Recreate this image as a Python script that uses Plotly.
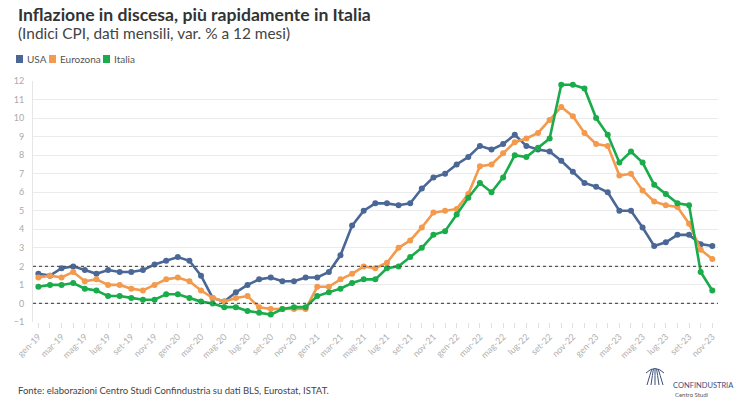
import plotly.graph_objects as go

W, H = 745, 402
ML, MR, MT, MB = 33, 27, 81, 80

mesi = ["gen", "feb", "mar", "apr", "mag", "giu", "lug", "ago", "set", "ott", "nov", "dic"]
categorie = [f"{m}-{a}" for a in ["19", "20", "21", "22", "23"] for m in mesi][:59]

usa = [1.6, 1.5, 1.9, 2.0, 1.8, 1.6, 1.8, 1.7, 1.7, 1.8, 2.1, 2.3,
       2.5, 2.3, 1.5, 0.3, 0.1, 0.6, 1.0, 1.3, 1.4, 1.2, 1.2, 1.4,
       1.4, 1.7, 2.6, 4.2, 5.0, 5.4, 5.4, 5.3, 5.4, 6.2, 6.8, 7.0,
       7.5, 7.9, 8.5, 8.3, 8.6, 9.1, 8.5, 8.3, 8.2, 7.7, 7.1, 6.5,
       6.3, 6.0, 5.0, 5.0, 4.1, 3.1, 3.3, 3.7, 3.7, 3.2, 3.1]
eurozona = [1.4, 1.5, 1.4, 1.7, 1.2, 1.3, 1.0, 1.0, 0.8, 0.7, 1.0, 1.3,
            1.4, 1.2, 0.7, 0.3, 0.1, 0.3, 0.4, -0.2, -0.3, -0.3, -0.3, -0.3,
            0.9, 0.9, 1.3, 1.6, 2.0, 1.9, 2.2, 3.0, 3.4, 4.1, 4.9, 5.0,
            5.1, 5.9, 7.4, 7.5, 8.1, 8.7, 8.9, 9.2, 9.9, 10.6, 10.1, 9.2,
            8.6, 8.5, 6.9, 7.0, 6.1, 5.5, 5.3, 5.2, 4.3, 2.9, 2.4]
italia = [0.9, 1.0, 1.0, 1.1, 0.8, 0.7, 0.4, 0.4, 0.3, 0.2, 0.2, 0.5,
          0.5, 0.3, 0.1, 0.0, -0.2, -0.2, -0.4, -0.5, -0.6, -0.3, -0.2, -0.2,
          0.4, 0.6, 0.8, 1.1, 1.3, 1.3, 1.9, 2.0, 2.5, 3.0, 3.7, 3.9,
          4.8, 5.7, 6.5, 6.0, 6.8, 8.0, 7.9, 8.4, 8.9, 11.8, 11.8, 11.6,
          10.0, 9.1, 7.6, 8.2, 7.6, 6.4, 5.9, 5.4, 5.3, 1.7, 0.7]

serie = [("USA", usa, "#4a6796"), ("Eurozona", eurozona, "#f39a4c"), ("Italia", italia, "#1aab4a")]
linee_rif = [0, 2]
y_ticks = list(range(-1, 13))

FONT = "Lato"
PW, PH = W - ML - MR, H - MT - MB

def px(x):
    return (x - ML) / PW

def py(y):
    return (H - MB - y) / PH

fig = go.Figure()
for nome, valori, colore in serie:
    fig.add_trace(go.Scatter(
        x=categorie, y=valori, name=nome, mode="lines+markers",
        line=dict(color=colore, width=2.6),
        marker=dict(color=colore, size=6),
        showlegend=False,
    ))

shapes = []
for v in linee_rif:
    shapes.append(dict(type="line", xref="paper", yref="y", x0=0, x1=1, y0=v, y1=v,
                       line=dict(color="#555555", width=1.2, dash="dot"), layer="above"))

annotations = [
    dict(text="<b>Inflazione in discesa, più rapidamente in Italia</b>", x=px(16), y=py(14),
         xref="paper", yref="paper", xanchor="left", yanchor="middle", showarrow=False,
         font=dict(family=FONT, size=17.6, color="#333333")),
    dict(text="(Indici CPI, dati mensili, var. % a 12 mesi)", x=px(16), y=py(33),
         xref="paper", yref="paper", xanchor="left", yanchor="middle", showarrow=False,
         font=dict(family=FONT, size=15.4, color="#444444")),
    dict(text="Fonte: elaborazioni Centro Studi Confindustria su dati BLS, Eurostat, ISTAT.",
         x=px(16), y=py(391), xref="paper", yref="paper", xanchor="left", yanchor="middle",
         showarrow=False, font=dict(family=FONT, size=9.5, color="#444444")),
    dict(text="CONFINDUSTRIA", x=px(671), y=py(385), xref="paper", yref="paper",
         xanchor="left", yanchor="middle", showarrow=False,
         font=dict(family=FONT, size=7.5, color="#3b4f7a")),
    dict(text="Centro Studi", x=px(673), y=py(394), xref="paper", yref="paper",
         xanchor="left", yanchor="middle", showarrow=False,
         font=dict(family=FONT, size=6, color="#555555")),
]

# legend (manual, square swatches)
lx = [16, 49, 103]
for (nome, _, colore), x0 in zip(serie, lx):
    shapes.append(dict(type="rect", xref="paper", yref="paper", x0=px(x0), x1=px(x0 + 7),
                       y0=py(55), y1=py(63), fillcolor=colore, line=dict(width=0)))
    annotations.append(dict(text=nome, x=px(x0 + 9), y=py(59), xref="paper", yref="paper",
                            xanchor="left", yanchor="middle", showarrow=False,
                            font=dict(family=FONT, size=10, color="#555555")))

# simple logo emblem
cx = 655
for dx in [-8, -4, 0, 4, 8]:
    shapes.append(dict(type="path", xref="paper", yref="paper",
                       path=f"M {px(cx+dx)},{py(385)} Q {px(cx+dx*0.6)},{py(374)} {px(cx+dx*0.4)},{py(369)}",
                       line=dict(color="#3b4f7a", width=1)))
shapes.append(dict(type="path", xref="paper", yref="paper",
                   path=f"M {px(646)},{py(373)} Q {px(655)},{py(364)} {px(664)},{py(373)}",
                   line=dict(color="#3b4f7a", width=1)))

tickvals = categorie
ticktext = [c if i % 2 == 0 else "" for i, c in enumerate(categorie)]

fig.update_layout(
    width=W, height=H,
    margin=dict(l=ML, r=MR, t=MT, b=MB, pad=0),
    paper_bgcolor="white", plot_bgcolor="white",
    font=dict(family=FONT),
    shapes=shapes, annotations=annotations,
    xaxis=dict(type="category", range=[-0.46, 58.49], tickmode="array",
               tickvals=tickvals, ticktext=ticktext, tickangle=-45,
               ticks="outside", ticklen=5, tickcolor="#e0e0e0",
               showgrid=False, zeroline=False, showline=False,
               tickfont=dict(family=FONT, size=9, color="#b0b0b0")),
    yaxis=dict(range=[-1, 12], tickmode="array", tickvals=y_ticks,
               showgrid=True, gridcolor="#ebebeb", gridwidth=1, zeroline=False,
               showline=True, linecolor="#e6e6e6", ticks="", ticklabelstandoff=6,
               tickfont=dict(family=FONT, size=9, color="#aaaaaa")),
)

fig.write_html("out.html", config={"displayModeBar": False},
               post_script="document.body.style.margin='0px';document.body.style.overflow='hidden';")
